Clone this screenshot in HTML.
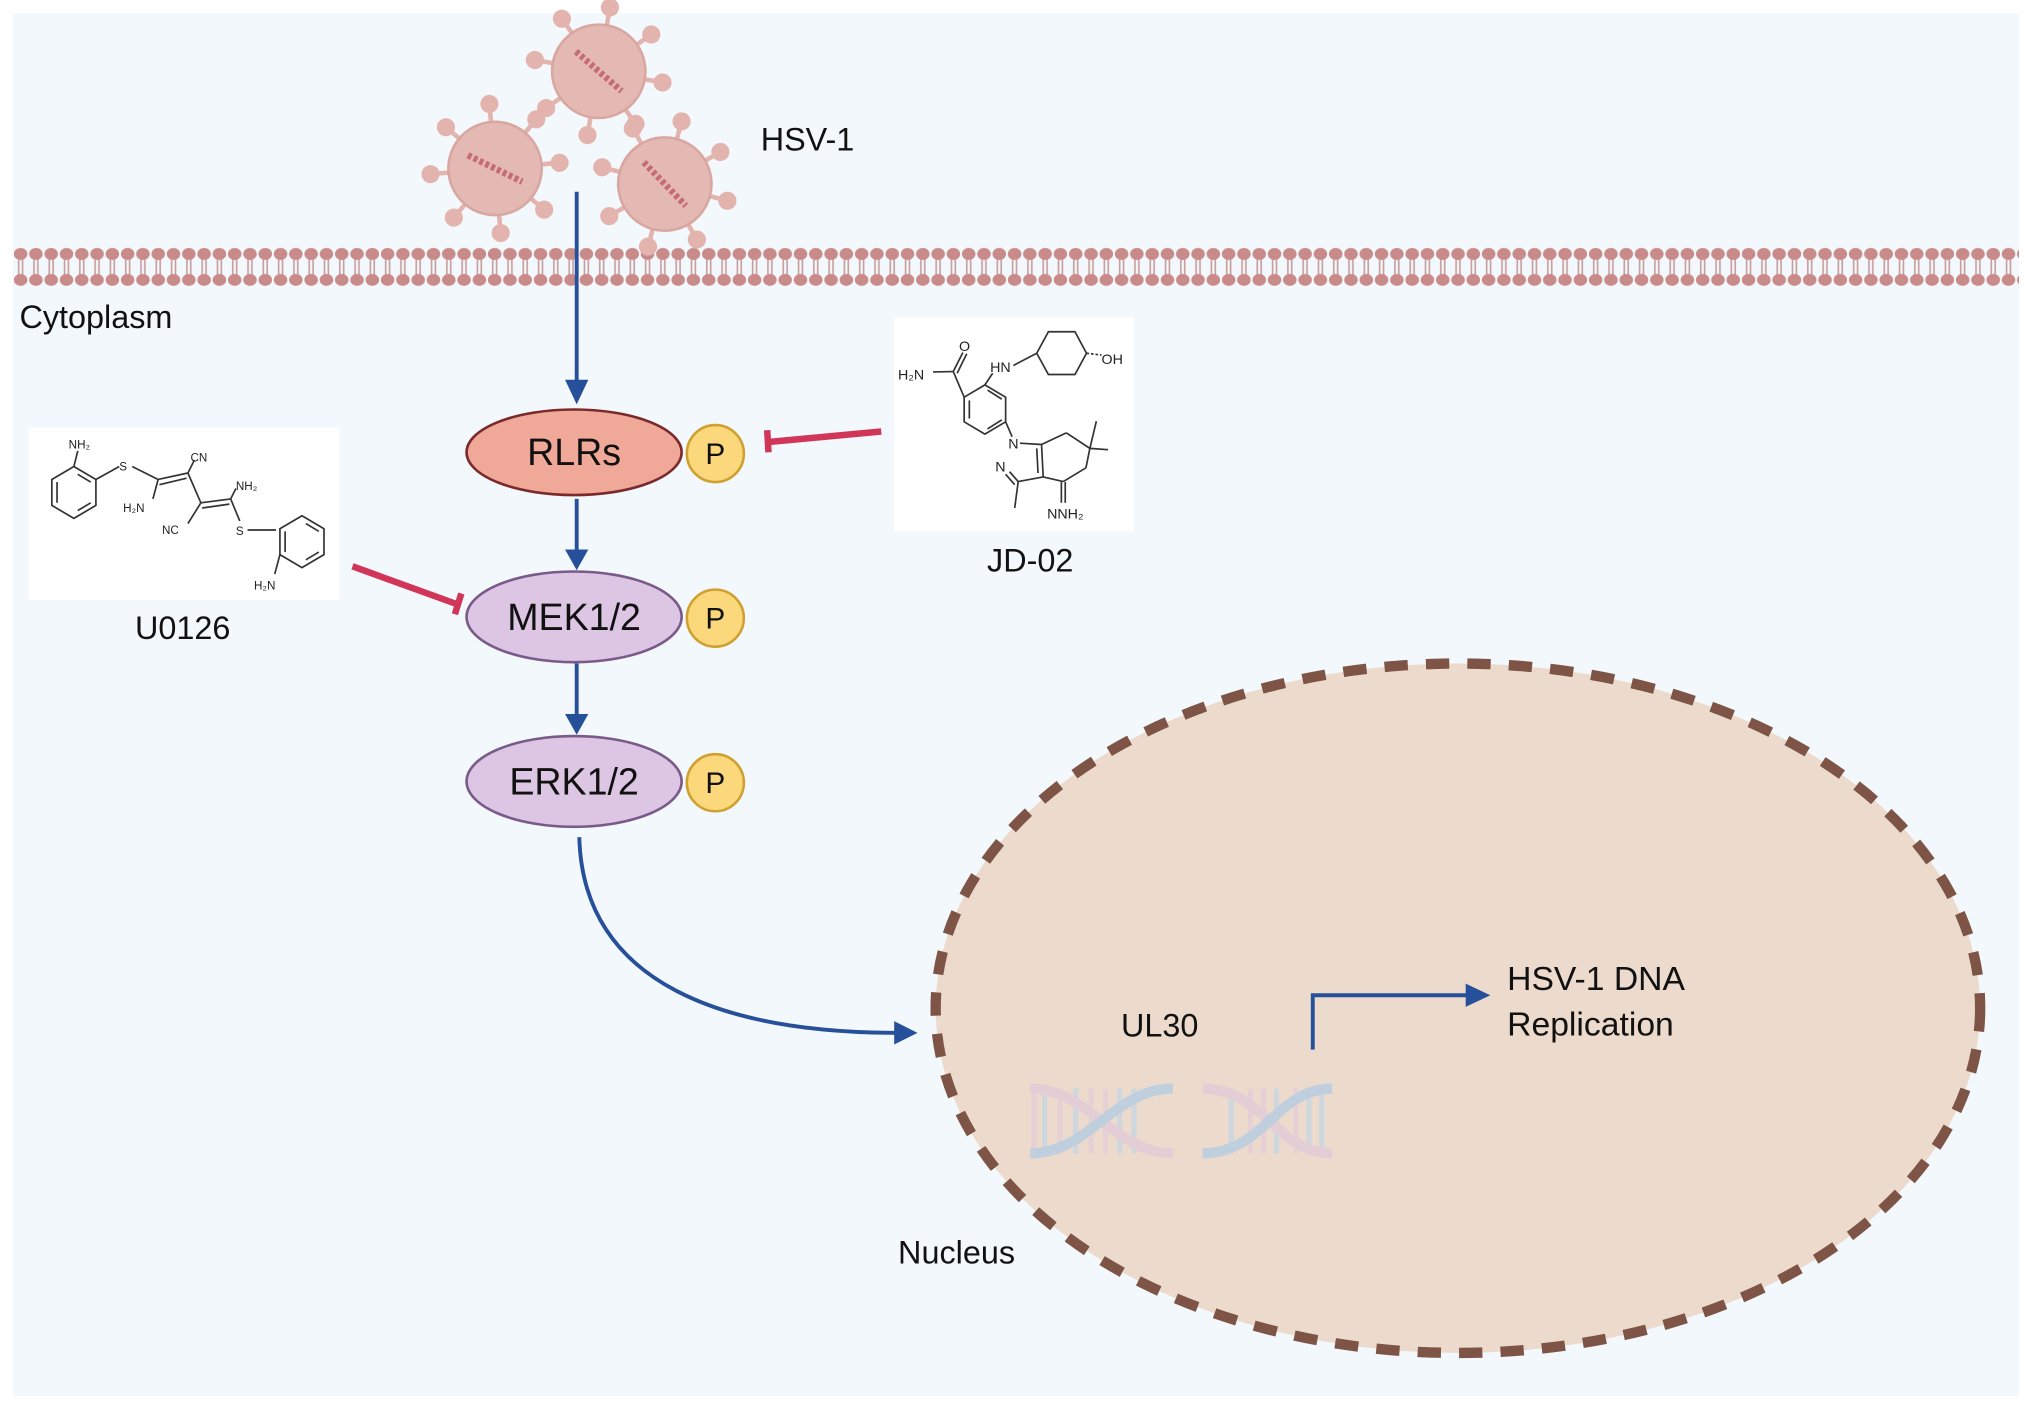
<!DOCTYPE html>
<html><head><meta charset="utf-8"><style>
html,body{margin:0;padding:0;background:#fff;}
svg{display:block;}
text{font-family:"Liberation Sans",Arial,sans-serif;}
</style></head><body>
<svg width="2032" height="1408" viewBox="0 0 1568 1086.5" xmlns="http://www.w3.org/2000/svg">
<defs>
<pattern id="mem" x="10" y="0" width="11.8" height="300" patternUnits="userSpaceOnUse">
<line x1="4.4" y1="196" x2="4.4" y2="216" stroke="#c9a0a0" stroke-width="1.3"/>
<line x1="7.4" y1="196" x2="7.4" y2="216" stroke="#c9a0a0" stroke-width="1.3"/>
<ellipse cx="5.9" cy="196" rx="5.2" ry="4.6" fill="#c98a8a"/>
<ellipse cx="5.9" cy="216" rx="5.2" ry="4.6" fill="#c98a8a"/>
</pattern>
<g id="virus">
<g stroke="#e3b3ad" stroke-width="3.5" fill="#e3b3ad">
<line x1="0" y1="0" x2="0" y2="-50"/><circle cx="0" cy="-50" r="7" stroke="none"/>
<line x1="0" y1="0" x2="35" y2="-35"/><circle cx="35" cy="-35" r="7" stroke="none"/>
<line x1="0" y1="0" x2="50" y2="0"/><circle cx="50" cy="0" r="7" stroke="none"/>
<line x1="0" y1="0" x2="35" y2="35"/><circle cx="35" cy="35" r="7" stroke="none"/>
<line x1="0" y1="0" x2="0" y2="50"/><circle cx="0" cy="50" r="7" stroke="none"/>
<line x1="0" y1="0" x2="-35" y2="35"/><circle cx="-35" cy="35" r="7" stroke="none"/>
<line x1="0" y1="0" x2="-50" y2="0"/><circle cx="-50" cy="0" r="7" stroke="none"/>
<line x1="0" y1="0" x2="-35" y2="-35"/><circle cx="-35" cy="-35" r="7" stroke="none"/>
</g>
<circle cx="0" cy="0" r="36" fill="#e5b9b3" stroke="#d9a7a1" stroke-width="2"/>
<path d="M-20,-12 L20,12" stroke="#c66b78" stroke-width="5" stroke-dasharray="3,2"/>
</g>
</defs>
<rect x="0" y="0" width="1568" height="1087" fill="#fff"/>
<rect x="10" y="10" width="1548" height="1067" fill="#f3f8fc"/>

<!-- membrane -->
<rect x="10" y="190" width="1548" height="32" fill="url(#mem)"/>
<text x="15" y="253" font-size="25" fill="#111">Cytoplasm</text>

<!-- viruses -->
<use href="#virus" transform="translate(462,55) rotate(10)"/>
<use href="#virus" transform="translate(382,130) rotate(-5)"/>
<use href="#virus" transform="translate(513,142) rotate(15)"/>
<text x="587" y="116" font-size="25" fill="#111">HSV-1</text>

<!-- arrows -->
<g stroke="#27509a" stroke-width="3" fill="none">
<line x1="445" y1="148" x2="445" y2="298"/>
<line x1="445" y1="385" x2="445" y2="428"/>
<line x1="445" y1="512" x2="445" y2="555"/>
<path d="M447,646 C450,760 560,797 693,797"/>
</g>
<g fill="#27509a">
<polygon points="436,293 454,293 445,312"/>
<polygon points="436,424 454,424 445,440"/>
<polygon points="436,551 454,551 445,567"/>
<polygon points="690,788 690,806 708,797"/>
</g>

<!-- inhibitors -->
<g stroke="#d13659" stroke-width="5">
<line x1="680" y1="333" x2="594" y2="341"/>
<line x1="592" y1="332" x2="593" y2="349"/>
<line x1="272" y1="437" x2="352" y2="466"/>
<line x1="356" y1="458" x2="351" y2="474"/>
</g>

<!-- nodes -->
<ellipse cx="443" cy="349" rx="83" ry="33" fill="#f0a898" stroke="#7a2a2a" stroke-width="2"/>
<text x="443" y="359" font-size="29" text-anchor="middle" fill="#111">RLRs</text>
<ellipse cx="443" cy="476" rx="83" ry="35" fill="#dcc6e4" stroke="#7a5a8a" stroke-width="2"/>
<text x="443" y="486" font-size="29" text-anchor="middle" fill="#111">MEK1/2</text>
<ellipse cx="443" cy="603" rx="83" ry="35" fill="#dcc6e4" stroke="#7a5a8a" stroke-width="2"/>
<text x="443" y="613" font-size="29" text-anchor="middle" fill="#111">ERK1/2</text>
<g fill="#fbd87c" stroke="#d0a030" stroke-width="2">
<circle cx="552" cy="350" r="22"/><circle cx="552" cy="477" r="22"/><circle cx="552" cy="604" r="22"/>
</g>
<g font-size="23" text-anchor="middle" fill="#111">
<text x="552" y="358">P</text><text x="552" y="485">P</text><text x="552" y="612">P</text>
</g>

<!-- U0126 -->
<rect x="22" y="330" width="240" height="133" fill="#fff"/>
<g stroke="#333" stroke-width="1.3" fill="none">
<polygon points="57,360 74,370 74,390 57,400 40,390 40,370"/>
<line x1="60" y1="366" x2="70" y2="372"/><line x1="44" y1="372" x2="44" y2="388"/><line x1="60" y1="394" x2="70" y2="388"/>
<line x1="57" y1="360" x2="60" y2="348"/>
<line x1="74" y1="370" x2="92" y2="360"/>
<line x1="102" y1="360" x2="122" y2="370"/>
<line x1="122" y1="370" x2="145" y2="365"/><line x1="123" y1="374" x2="144" y2="369"/>
<line x1="122" y1="370" x2="118" y2="385"/>
<line x1="145" y1="365" x2="150" y2="355"/>
<line x1="145" y1="365" x2="155" y2="388"/>
<line x1="155" y1="388" x2="178" y2="385"/><line x1="156" y1="392" x2="177" y2="389"/>
<line x1="155" y1="388" x2="145" y2="404"/>
<line x1="178" y1="385" x2="182" y2="377"/>
<line x1="178" y1="385" x2="185" y2="402"/>
<line x1="191" y1="409" x2="213" y2="409"/>
<polygon points="233,398 250,408 250,428 233,438 216,428 216,408"/>
<line x1="236" y1="404" x2="246" y2="410"/><line x1="220" y1="410" x2="220" y2="426"/><line x1="236" y1="432" x2="246" y2="426"/>
<line x1="216" y1="428" x2="212" y2="443"/>
</g>
<g font-size="9" fill="#222">
<text x="53" y="346">NH₂</text><text x="92" y="363">S</text><text x="147" y="356">CN</text>
<text x="95" y="395">H₂N</text><text x="182" y="378">NH₂</text><text x="125" y="412">NC</text>
<text x="182" y="413">S</text><text x="196" y="455">H₂N</text>
</g>
<text x="141" y="493" font-size="25" text-anchor="middle" fill="#111">U0126</text>

<!-- JD-02 -->
<rect x="690" y="245" width="185" height="165" fill="#fff"/>
<g stroke="#333" stroke-width="1.3" fill="none">
<polygon points="760,297 776,306.5 776,325.5 760,335 744,325.5 744,306.5"/>
<line x1="748" y1="309" x2="748" y2="323"/><line x1="762" y1="331" x2="773" y2="324"/><line x1="762" y1="301" x2="773" y2="308"/>
<line x1="744" y1="306.5" x2="735.6" y2="286.7"/>
<line x1="735.6" y1="286.7" x2="743" y2="272"/><line x1="738.6" y1="288" x2="746" y2="273"/>
<line x1="735.6" y1="286.7" x2="720" y2="287"/>
<line x1="760" y1="297" x2="766" y2="288"/>
<line x1="782" y1="282" x2="800" y2="272.6"/>
<polygon points="800,272.6 809,256 829.5,256 838.4,272.6 829.5,289 809,289"/>
<line x1="838.4" y1="272.6" x2="850" y2="274" stroke-dasharray="2,1.5"/>
<line x1="776" y1="325.5" x2="781" y2="337"/>
<line x1="787" y1="342" x2="803.7" y2="343"/>
<line x1="803.7" y1="343" x2="805" y2="368"/><line x1="800" y1="346" x2="801" y2="365"/>
<line x1="805" y1="368" x2="785.7" y2="371.6"/>
<line x1="785.7" y1="371.6" x2="779" y2="364"/><line x1="783" y1="374" x2="776" y2="366"/>
<line x1="785.7" y1="371.6" x2="783" y2="392"/>
<line x1="803.7" y1="343" x2="822.8" y2="334"/>
<line x1="822.8" y1="334" x2="841" y2="346"/>
<line x1="841" y1="346" x2="846" y2="325"/><line x1="841" y1="346" x2="855" y2="347"/>
<line x1="841" y1="346" x2="838" y2="361"/>
<line x1="838" y1="361" x2="820.5" y2="371.6"/>
<line x1="820.5" y1="371.6" x2="805" y2="368"/>
<line x1="819" y1="372" x2="819" y2="388"/><line x1="822" y1="372" x2="822" y2="388"/>
</g>
<g font-size="11" fill="#222">
<text x="693" y="293">H₂N</text><text x="740" y="271">O</text><text x="764" y="287">HN</text>
<text x="850" y="281">OH</text><text x="778" y="346">N</text><text x="768" y="364">N</text>
<text x="808" y="400">NNH₂</text>
</g>
<text x="795" y="441" font-size="25" text-anchor="middle" fill="#111">JD-02</text>

<!-- nucleus -->
<ellipse cx="1125" cy="778" rx="403" ry="266" fill="#ecdbcc" stroke="#7d5446" stroke-width="8" stroke-dasharray="18,14"/>
<text x="865" y="800" font-size="25" fill="#111">UL30</text>
<text x="1163" y="764" font-size="26" fill="#111">HSV-1 DNA</text>
<text x="1163" y="799" font-size="26" fill="#111">Replication</text>
<text x="693" y="975" font-size="25" fill="#111">Nucleus</text>
<path d="M1013,810 L1013,768 L1135,768" stroke="#27509a" stroke-width="3" fill="none"/>
<polygon points="1131,759 1131,777 1150,768" fill="#27509a"/>

<!-- DNA -->
<g opacity="0.85">
<g stroke-width="4">
<line x1="798" y1="840" x2="798" y2="890" stroke="#e6cfd8"/><line x1="806" y1="840" x2="806" y2="890" stroke="#c9d6e2"/>
<line x1="818" y1="840" x2="818" y2="890" stroke="#e6cfd8"/>
<line x1="830" y1="840" x2="830" y2="890" stroke="#c9d6e2"/><line x1="842" y1="840" x2="842" y2="890" stroke="#e6cfd8"/>
<line x1="853" y1="840" x2="853" y2="890" stroke="#e6cfd8"/><line x1="864" y1="840" x2="864" y2="890" stroke="#c9d6e2"/>
<line x1="875" y1="840" x2="875" y2="890" stroke="#c9d6e2"/>
<line x1="950" y1="840" x2="950" y2="890" stroke="#c9d6e2"/><line x1="965" y1="840" x2="965" y2="890" stroke="#e6cfd8"/>
<line x1="975" y1="840" x2="975" y2="890" stroke="#e6cfd8"/>
<line x1="985" y1="840" x2="985" y2="890" stroke="#c9d6e2"/><line x1="1000" y1="840" x2="1000" y2="890" stroke="#e6cfd8"/>
<line x1="1010" y1="840" x2="1010" y2="890" stroke="#c9d6e2"/>
<line x1="1020" y1="840" x2="1020" y2="890" stroke="#c9d6e2"/>
</g>
<g fill="none" stroke-width="8">
<path d="M795,840 C840,840 860,890 905,890" stroke="#e3ccd8"/>
<path d="M795,890 C840,890 860,840 905,840" stroke="#b9cde0"/>
<path d="M928,840 C975,840 985,890 1028,890" stroke="#e3ccd8"/>
<path d="M928,890 C975,890 985,840 1028,840" stroke="#b9cde0"/>
</g>
</g>
</svg>
</body></html>
